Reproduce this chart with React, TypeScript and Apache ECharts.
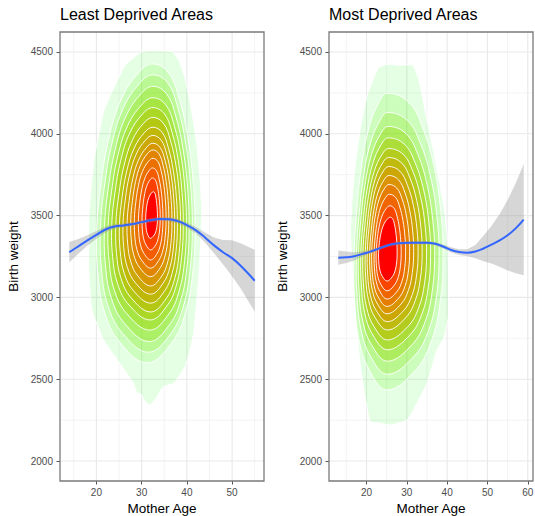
import React, { useEffect, useRef } from "react";
import * as echarts from "echarts";

const FONT = "'Liberation Sans', Arial, Helvetica, sans-serif";

// ---------- axis breaks ----------
const yTicks = [2000, 2500, 3000, 3500, 4000, 4500];
const yMinorBreaks = [2250, 2750, 3250, 3750, 4250];
const leastAgeTicks = [20, 30, 40, 50];
const leastAgeMinor = [15, 25, 35, 45, 55];
const mostAgeTicks = [20, 30, 40, 50, 60];
const mostAgeMinor = [15, 25, 35, 45, 55];
const Y_RANGE = [1878, 4622];
const LEAST_X_RANGE = [11.95, 57.05];
const MOST_X_RANGE = [10.7, 61.3];

// ---------- Least deprived: 2D density contours ----------
// outermost contour outline [age, birth weight]
const leastOuterContour: [number, number][] = [
  [26.4, 4420], [30.1, 4502], [36.7, 4502], [38.2, 4451], [39.6, 4339], [41.1, 4135],
  [42.2, 3932], [42.9, 3728], [43.3, 3524], [42.8, 3190], [42.2, 2984], [41.5, 2781],
  [40.7, 2679], [39.6, 2577], [37.1, 2475], [34.8, 2454], [33.4, 2393], [31.9, 2343],
  [30.8, 2363], [29.7, 2414], [29.0, 2414], [28.2, 2475], [24.6, 2620], [21.6, 2740],
  [19.0, 2923], [18.3, 3168], [18.3, 3487], [18.7, 3626], [19.4, 3830], [20.5, 3993],
  [21.6, 4135], [23.1, 4237], [24.9, 4339],
];
// inner contour rings (outer -> peak): top / bottom weight, left / right age extent
const leastRingTop = [4427, 4360, 4290, 4220, 4160, 4100, 4040, 3990, 3942, 3901, 3850, 3791, 3730, 3646];
const leastRingBottom = [2600, 2665, 2730, 2800, 2862, 2911, 2965, 3020, 3070, 3127, 3179, 3229, 3290, 3361];
const leastRingLeft = [20.1, 20.9, 21.8, 22.6, 23.4, 24.3, 25.1, 25.9, 26.8, 27.6, 28.4, 29.3, 30.1, 30.9];
const leastRingRight = [41.8, 41.2, 40.5, 39.9, 39.2, 38.6, 37.9, 37.3, 36.7, 36.0, 35.4, 34.7, 34.1, 33.5];
const leastRingTopAge = [32.4, 32.5, 32.5, 32.5, 32.5, 32.5, 32.5, 32.5, 32.5, 32.5, 32.5, 32.4, 32.4, 32.6];
const leastRingBottomAge = [31.2, 31.5, 31.7, 31.8, 31.9, 32.0, 32.0, 32.0, 32.0, 32.0, 32.0, 32.0, 32.0, 31.9];

// ---------- Most deprived: 2D density contours ----------
const mostOuterContour: [number, number][] = [
  [23.0, 4405], [25.5, 4425], [28.0, 4418], [31.4, 4420], [32.9, 4340], [34.6, 4135],
  [36.3, 3932], [37.9, 3730], [39.4, 3524], [40.2, 3300], [40.3, 2880], [39.3, 2760],
  [37.5, 2679], [35.0, 2475], [32.5, 2353], [30.1, 2251], [25.9, 2220], [23.5, 2231],
  [21.0, 2240], [20.2, 2312], [18.5, 2577], [17.3, 2882], [16.5, 3188], [16.0, 3402],
  [16.5, 3626], [17.3, 3830], [18.5, 4035], [20.2, 4237],
];
const mostRingTop = [4248, 4130, 4045, 3975, 3910, 3855, 3800, 3745, 3690, 3630, 3560, 3490];
const mostRingBottom = [2434, 2530, 2610, 2680, 2740, 2801, 2852, 2900, 2945, 2990, 3040, 3100];
const mostRingLeft = [16.9, 17.5, 18.0, 18.6, 19.1, 19.7, 20.2, 20.8, 21.3, 21.9, 22.4, 23.0];
const mostRingRight = [39.0, 38.0, 36.9, 35.9, 34.9, 33.8, 32.8, 31.7, 30.7, 29.7, 28.6, 27.6];
const mostRingTopAge = [25.2, 25.3, 25.4, 25.4, 25.5, 25.5, 25.5, 25.6, 25.6, 25.7, 25.8, 25.9];
const mostRingBottomAge = [25.1, 25.2, 25.2, 25.2, 25.2, 25.2, 25.2, 25.1, 25.1, 25.1, 25.1, 25.1];

// ---------- loess smooth + 95% band ----------
const leastSmoothAge = [14, 16, 18, 20, 22, 24, 26, 28, 30, 32, 34, 36, 38, 40, 42, 44, 46, 48, 50, 52, 55];
const leastSmoothFit = [3276, 3312, 3348, 3382, 3415, 3433, 3440, 3448, 3460, 3471, 3479, 3478, 3466, 3442, 3410, 3366, 3318, 3276, 3240, 3190, 3102];
const leastSmoothLower = [3214, 3267, 3316, 3358, 3397, 3419, 3428, 3436, 3448, 3459, 3467, 3465, 3452, 3426, 3390, 3336, 3270, 3201, 3130, 3050, 2912];
const leastSmoothUpper = [3338, 3357, 3380, 3406, 3433, 3447, 3452, 3460, 3472, 3483, 3491, 3491, 3480, 3458, 3430, 3396, 3366, 3351, 3350, 3330, 3292];

const mostSmoothAge = [13, 15, 17, 19, 21, 23, 25, 27, 29, 31, 33, 35, 37, 39, 41, 43, 45, 47, 49, 51, 53, 55, 57, 59];
const mostSmoothFit = [3243, 3245, 3251, 3266, 3280, 3298, 3316, 3328, 3333, 3334, 3334, 3334, 3328, 3311, 3290, 3277, 3273, 3280, 3299, 3322, 3348, 3380, 3422, 3475];
const mostSmoothLower = [3199, 3210, 3226, 3250, 3268, 3289, 3307, 3319, 3324, 3325, 3325, 3325, 3318, 3299, 3274, 3259, 3251, 3240, 3221, 3207, 3188, 3165, 3147, 3135];
const mostSmoothUpper = [3287, 3280, 3276, 3282, 3292, 3307, 3325, 3337, 3342, 3343, 3343, 3343, 3338, 3323, 3306, 3295, 3295, 3320, 3377, 3437, 3508, 3595, 3697, 3815];

// contour ring profile: [fraction of height, side (-1 left, 1 right, 0 centre), fraction of half-width]
const RING_PROFILE: [number, number, number][] = [
  [1.0, 0, 0], [0.97, 1, 0.38], [0.88, 1, 0.64], [0.75, 1, 0.84], [0.6, 1, 0.96],
  [0.45, 1, 1.0], [0.3, 1, 0.95], [0.17, 1, 0.8], [0.07, 1, 0.52], [0.0, 0, 0],
  [0.07, -1, 0.55], [0.17, -1, 0.85], [0.3, -1, 0.98], [0.45, -1, 1.0], [0.6, -1, 0.92],
  [0.75, -1, 0.78], [0.88, -1, 0.56], [0.97, -1, 0.25],
];

function ringOutline(top: number, bottom: number, left: number, right: number, topAge: number, bottomAge: number) {
  return RING_PROFILE.map(([f, side, frac]) => {
    const w = bottom + f * (top - bottom);
    const cx = bottomAge + (topAge - bottomAge) * f;
    const x = side > 0 ? cx + frac * (right - cx) : side < 0 ? cx - frac * (cx - left) : cx;
    return [x, w] as [number, number];
  });
}

// ---------- colour scale: green -> red in Lab, alpha 0.1 -> 1 ----------
function toLin(c: number) { c /= 255; return c <= 0.04045 ? c / 12.92 : Math.pow((c + 0.055) / 1.055, 2.4); }
function fromLin(c: number) {
  const v = c <= 0.0031308 ? 12.92 * c : 1.055 * Math.pow(c, 1 / 2.4) - 0.055;
  return Math.round(Math.max(0, Math.min(1, v)) * 255);
}
function rgbToLab(rgb: number[]) {
  const R = toLin(rgb[0]), G = toLin(rgb[1]), B = toLin(rgb[2]);
  const X = (0.4124 * R + 0.3576 * G + 0.1805 * B) / 0.95047;
  const Y = 0.2126 * R + 0.7152 * G + 0.0722 * B;
  const Z = (0.0193 * R + 0.1192 * G + 0.9505 * B) / 1.08883;
  const f = (t: number) => (t > 0.008856 ? Math.cbrt(t) : 7.787 * t + 16 / 116);
  const fx = f(X), fy = f(Y), fz = f(Z);
  return [116 * fy - 16, 500 * (fx - fy), 200 * (fy - fz)];
}
function labToRgb(lab: number[]) {
  const fy = (lab[0] + 16) / 116, fx = fy + lab[1] / 500, fz = fy - lab[2] / 200;
  const inv = (t: number) => (t * t * t > 0.008856 ? t * t * t : (t - 16 / 116) / 7.787);
  const X = 0.95047 * inv(fx), Y = inv(fy), Z = 1.08883 * inv(fz);
  return [
    fromLin(3.2406 * X - 1.5372 * Y - 0.4986 * Z),
    fromLin(-0.9689 * X + 1.8758 * Y + 0.0415 * Z),
    fromLin(0.0557 * X - 0.204 * Y + 1.057 * Z),
  ];
}
const LOW_LAB = rgbToLab([0, 255, 0]);
const HIGH_LAB = rgbToLab([255, 0, 0]);
function levelFill(i: number, n: number) {
  const t = n > 1 ? i / (n - 1) : 1;
  const lab = LOW_LAB.map((v, k) => v + (HIGH_LAB[k] - v) * t);
  const [r, g, b] = labToRgb(lab);
  return `rgba(${r},${g},${b},${(0.1 + 0.9 * t).toFixed(3)})`;
}

const panels = [
  {
    title: "Least Deprived Areas", gridLeft: 60, xRange: LEAST_X_RANGE,
    ticks: leastAgeTicks, minor: leastAgeMinor, outer: leastOuterContour,
    top: leastRingTop, bottom: leastRingBottom, left: leastRingLeft, right: leastRingRight,
    topAge: leastRingTopAge, bottomAge: leastRingBottomAge,
    ages: leastSmoothAge, fit: leastSmoothFit, lower: leastSmoothLower, upper: leastSmoothUpper,
  },
  {
    title: "Most Deprived Areas", gridLeft: 329, xRange: MOST_X_RANGE,
    ticks: mostAgeTicks, minor: mostAgeMinor, outer: mostOuterContour,
    top: mostRingTop, bottom: mostRingBottom, left: mostRingLeft, right: mostRingRight,
    topAge: mostRingTopAge, bottomAge: mostRingBottomAge,
    ages: mostSmoothAge, fit: mostSmoothFit, lower: mostSmoothLower, upper: mostSmoothUpper,
  },
];

function buildOption() {
  const series: any[] = [];
  panels.forEach((p, pi) => {
    const axes = { xAxisIndex: pi, yAxisIndex: pi };
    // grid lines
    const gridData = [
      ...p.minor.map((v) => [v, 0, 0]),
      ...yMinorBreaks.map((v) => [v, 1, 0]),
      ...p.ticks.map((v) => [v, 0, 1]),
      ...yTicks.map((v) => [v, 1, 1]),
    ];
    series.push({
      type: "custom", ...axes, z: 0, silent: true, data: gridData,
      renderItem: (params: any, api: any) => {
        const v = api.value(0), dir = api.value(1), major = api.value(2);
        const cs = params.coordSys;
        let shape;
        if (dir === 0) {
          const x = api.coord([v, Y_RANGE[0]])[0];
          shape = { x1: x, y1: cs.y, x2: x, y2: cs.y + cs.height };
        } else {
          const y = api.coord([p.xRange[0], v])[1];
          shape = { x1: cs.x, y1: y, x2: cs.x + cs.width, y2: y };
        }
        return { type: "line", shape, style: { stroke: major ? "#e9e9e9" : "#f2f2f2", lineWidth: major ? 1.1 : 0.9 } };
      },
    });
    // density contours
    const rings: [number, number][][] = [p.outer];
    p.top.forEach((t, k) => rings.push(ringOutline(t, p.bottom[k], p.left[k], p.right[k], p.topAge[k], p.bottomAge[k])));
    const n = rings.length;
    series.push({
      type: "custom", ...axes, z: 1, silent: true,
      data: rings.map((r, k) => [r[0][0], r[0][1], k]),
      renderItem: (params: any, api: any) => {
        const k = api.value(2);
        const pts = rings[k].map((pt) => api.coord(pt));
        return {
          type: "polygon",
          shape: { points: pts, smooth: k === 0 ? 0.15 : 0.4 },
          style: { fill: levelFill(k, n), stroke: "#ffffff", lineWidth: 0.9 },
        };
      },
    });
    // confidence band
    series.push({
      type: "custom", ...axes, z: 2, silent: true,
      data: [[p.ages[0], p.fit[0]]],
      renderItem: (params: any, api: any) => {
        const up = p.ages.map((a, k) => api.coord([a, p.upper[k]]));
        const lo = p.ages.map((a, k) => api.coord([a, p.lower[k]])).reverse();
        return { type: "polygon", shape: { points: up.concat(lo) }, style: { fill: "rgba(153,153,153,0.4)" } };
      },
    });
    // smooth line
    series.push({
      type: "line", ...axes, z: 3, silent: true,
      data: p.ages.map((a, k) => [a, p.fit[k]]),
      smooth: 0.4, showSymbol: false, symbol: "none",
      lineStyle: { color: "#3366FF", width: 2 },
    });
    // panel border
    series.push({
      type: "custom", ...axes, z: 4, silent: true,
      data: [[p.xRange[0], Y_RANGE[0]]],
      renderItem: (params: any) => {
        const cs = params.coordSys;
        return { type: "rect", shape: { x: cs.x, y: cs.y, width: cs.width, height: cs.height }, style: { fill: "none", stroke: "#7a7a7a", lineWidth: 1.3 } };
      },
    });
  });

  const tickLabel = { fontFamily: FONT, fontSize: 10, color: "#4d4d4d", formatter: (v: number) => String(v) };
  const nameStyle = { fontFamily: FONT, fontSize: 13.5, color: "#000000" };

  return {
    animation: false,
    backgroundColor: "#ffffff",
    title: panels.map((p) => ({
      text: p.title, left: p.gridLeft, top: 6, padding: 0,
      textStyle: { fontFamily: FONT, fontSize: 16, fontWeight: "normal", color: "#000000" },
    })),
    grid: panels.map((p) => ({
      left: p.gridLeft, top: 32, width: 204, height: 449, show: false,
      containLabel: false, outerBoundsMode: "none",
    })),
    xAxis: panels.map((p, pi) => ({
      gridIndex: pi, type: "value", min: p.xRange[0], max: p.xRange[1],
      name: "Mother Age", nameLocation: "middle", nameGap: 20, nameTextStyle: nameStyle,
      axisLine: { show: false },
      axisTick: { show: true, customValues: p.ticks, length: 3.5, lineStyle: { color: "#555555", width: 1 } },
      axisLabel: { customValues: p.ticks, margin: 6, ...tickLabel },
      splitLine: { show: false },
    })),
    yAxis: panels.map((p, pi) => ({
      gridIndex: pi, type: "value", min: Y_RANGE[0], max: Y_RANGE[1],
      name: "Birth weight", nameLocation: "middle", nameGap: 40, nameRotate: 90, nameTextStyle: nameStyle,
      axisLine: { show: false },
      axisTick: { show: true, customValues: yTicks, length: 3.5, lineStyle: { color: "#555555", width: 1 } },
      axisLabel: { customValues: yTicks, margin: 7, ...tickLabel },
      splitLine: { show: false },
    })),
    series,
  };
}

export default function App() {
  const ref = useRef<HTMLDivElement>(null);
  useEffect(() => {
    if (!ref.current) return;
    const chart = echarts.init(ref.current, undefined, { renderer: "svg" });
    chart.setOption(buildOption() as any);
    return () => chart.dispose();
  }, []);
  return (
    <div
      ref={ref}
      style={{ position: "absolute", left: 0, top: 0, width: 535, height: 516, background: "#ffffff" }}
    />
  );
}
